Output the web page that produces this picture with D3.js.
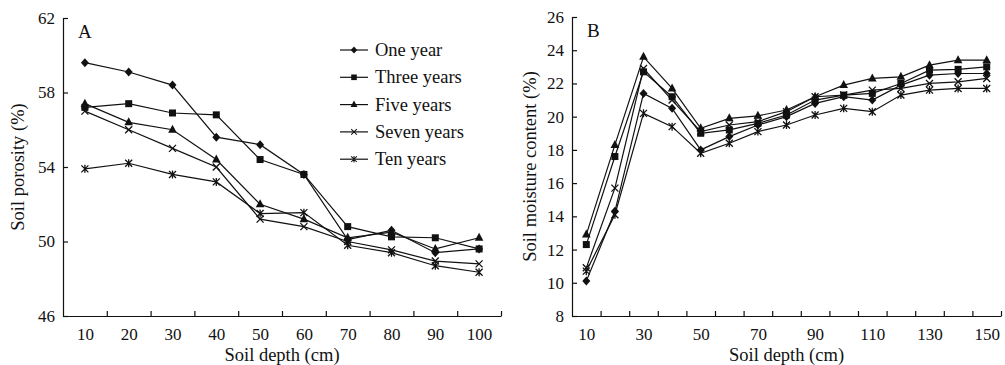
<head>
    <script src="https://d3js.org/d3.v7.min.js"></script>
    <style>
        body { margin: 0; background: white; }
        text { font-family: "Liberation Serif", "Times New Roman", serif; fill: #111; }
        .axis path, .axis line { stroke: #111; stroke-width: 1.2; }
        .axis text { font-size: 17px; font-family: "Liberation Serif", serif; fill: #111; }
    </style>
</head>

<body>
<svg id="plot" width="1005" height="365"></svg>
<script>
    //data
    const seriesNames = ["One year", "Three years", "Five years", "Seven years", "Ten years"];
    const markerTypes = ["diamond", "square", "triangle", "cross", "asterisk"];

    //panel A: soil porosity (%)
    const depthsA = [10, 20, 30, 40, 50, 60, 70, 80, 90, 100];
    const porosityOne   = [59.6, 59.1, 58.4, 55.6, 55.2, 53.6, 50.1, 50.6, 49.4, 49.6];
    const porosityThree = [57.2, 57.4, 56.9, 56.8, 54.4, 53.6, 50.8, 50.25, 50.2, 49.6];
    const porosityFive  = [57.4, 56.4, 56.0, 54.4, 52.0, 51.2, 50.2, 50.5, 49.6, 50.2];
    const porositySeven = [57.0, 56.0, 55.0, 54.0, 51.2, 50.8, 50.0, 49.55, 48.95, 48.8];
    const porosityTen   = [53.9, 54.2, 53.6, 53.2, 51.5, 51.55, 49.8, 49.4, 48.7, 48.35];
    const yTicksA = [46, 50, 54, 58, 62];
    const xLabelsA = [10, 20, 30, 40, 50, 60, 70, 80, 90, 100];
    const xTicksA = [15, 25, 35, 45, 55, 65, 75, 85, 95, 105];

    //panel B: soil moisture content (%)
    const depthsB = [10, 20, 30, 40, 50, 60, 70, 80, 90, 100, 110, 120, 130, 140, 150];
    const moistureOne   = [10.1, 14.3, 21.4, 20.5, 18.0, 18.8, 19.5, 20.0, 20.8, 21.2, 21.0, 21.9, 22.5, 22.6, 22.6];
    const moistureThree = [12.3, 17.6, 22.7, 21.2, 19.0, 19.2, 19.6, 20.1, 21.0, 21.3, 21.4, 22.0, 22.8, 22.85, 23.0];
    const moistureFive  = [12.9, 18.3, 23.6, 21.7, 19.3, 19.9, 20.05, 20.4, 21.2, 21.9, 22.3, 22.4, 23.1, 23.4, 23.4];
    const moistureSeven = [10.9, 15.7, 22.9, 21.0, 19.1, 19.5, 19.7, 20.3, 21.2, 21.3, 21.6, 21.7, 22.0, 22.1, 22.3];
    const moistureTen   = [10.7, 14.1, 20.2, 19.4, 17.8, 18.4, 19.1, 19.5, 20.1, 20.5, 20.3, 21.3, 21.6, 21.7, 21.7];
    const yTicksB = [8, 10, 12, 14, 16, 18, 20, 22, 24, 26];
    const xLabelsB = [10, 30, 50, 70, 90, 110, 130, 150];
    const xTicksB = [15, 25, 35, 45, 55, 65, 75, 85, 95, 105, 115, 125, 135, 145, 155];

    const svg = d3.select("svg#plot");

    //draw one marker at 0,0
    function drawMarker(g, type) {
        if (type === "diamond") {
            g.append("path").attr("d", "M0,-4.5L4,0L0,4.5L-4,0Z").attr("fill", "#111");
        } else if (type === "square") {
            g.append("rect").attr("x", -3.5).attr("y", -3.5).attr("width", 7).attr("height", 7).attr("fill", "#111");
        } else if (type === "triangle") {
            g.append("path").attr("d", "M0,-5L4.3,3L-4.3,3Z").attr("fill", "#111");
        } else if (type === "cross") {
            g.append("path").attr("d", "M-3.5,-3.5L3.5,3.5M-3.5,3.5L3.5,-3.5")
                .attr("stroke", "#111").attr("stroke-width", 1.3).attr("fill", "none");
        } else {
            g.append("path").attr("d", "M-3.5,-3.5L3.5,3.5M-3.5,3.5L3.5,-3.5M0,-4L0,4")
                .attr("stroke", "#111").attr("stroke-width", 1.3).attr("fill", "none");
        }
    }

    function drawPanel(opts) {
        const x = d3.scaleLinear().domain(opts.xDomain).range([opts.left, opts.right]);
        const y = d3.scaleLinear().domain(opts.yDomain).range([opts.bottom, opts.top]);

        //x axis: inward ticks, labels offset from ticks
        svg.append("g").attr("class", "axis")
            .attr("transform", `translate(0,${opts.bottom})`)
            .call(d3.axisBottom(x).tickValues(opts.xTicks).tickSizeInner(-5).tickSizeOuter(0).tickFormat(""));
        svg.append("g").attr("class", "axis")
            .attr("transform", `translate(0,${opts.bottom})`)
            .call(d3.axisBottom(x).tickValues(opts.xLabels).tickSize(0).tickPadding(12))
            .call(g => g.select(".domain").remove());

        //y axis
        svg.append("g").attr("class", "axis")
            .attr("transform", `translate(${opts.left},0)`)
            .call(d3.axisLeft(y).tickValues(opts.yTicks).tickSizeInner(-5).tickSizeOuter(0).tickPadding(8));

        //lines + markers
        const line = d3.line().x(d => x(d[0])).y(d => y(d[1]));
        opts.series.forEach((vals, i) => {
            const pts = opts.depths.map((d, j) => [d, vals[j]]);
            svg.append("path").datum(pts)
                .attr("d", line)
                .attr("fill", "none")
                .attr("stroke", "#111")
                .attr("stroke-width", 1.2);
            pts.forEach(p => {
                const g = svg.append("g").attr("transform", `translate(${x(p[0])},${y(p[1])})`);
                drawMarker(g, markerTypes[i]);
            });
        });

        //panel letter
        svg.append("text").attr("x", opts.left + 15).attr("y", opts.top + 20)
            .attr("font-size", 19).text(opts.letter);

        //axis titles
        svg.append("text")
            .attr("x", (opts.left + opts.right) / 2).attr("y", 361)
            .attr("text-anchor", "middle").attr("font-size", 18.5)
            .text("Soil depth (cm)");
        svg.append("text")
            .attr("transform", `translate(${opts.yTitleX},${(opts.top + opts.bottom) / 2}) rotate(-90)`)
            .attr("text-anchor", "middle").attr("font-size", 18.5)
            .text(opts.yTitle);
    }

    drawPanel({
        letter: "A", left: 63, right: 501, top: 18, bottom: 316,
        xDomain: [5, 105], yDomain: [46, 62],
        xTicks: xTicksA, xLabels: xLabelsA, yTicks: yTicksA,
        depths: depthsA,
        series: [porosityOne, porosityThree, porosityFive, porositySeven, porosityTen],
        yTitle: "Soil porosity (%)", yTitleX: 24
    });

    drawPanel({
        letter: "B", left: 572, right: 1001, top: 17, bottom: 316,
        xDomain: [5, 155], yDomain: [8, 26],
        xTicks: xTicksB, xLabels: xLabelsB, yTicks: yTicksB,
        depths: depthsB,
        series: [moistureOne, moistureThree, moistureFive, moistureSeven, moistureTen],
        yTitle: "Soil moisture content (%)", yTitleX: 536
    });

    //legend in panel A
    const legend = svg.append("g").attr("transform", "translate(340,50)");
    seriesNames.forEach((name, i) => {
        const row = legend.append("g").attr("transform", `translate(0,${i * 27.3})`);
        row.append("line").attr("x1", 0).attr("x2", 28).attr("y1", 0).attr("y2", 0)
            .attr("stroke", "#111").attr("stroke-width", 1.2);
        const m = row.append("g").attr("transform", "translate(14,0) scale(0.8)");
        drawMarker(m, markerTypes[i]);
        row.append("text").attr("x", 35).attr("y", 6).attr("font-size", 18.5).text(name);
    });
</script>
</body>
